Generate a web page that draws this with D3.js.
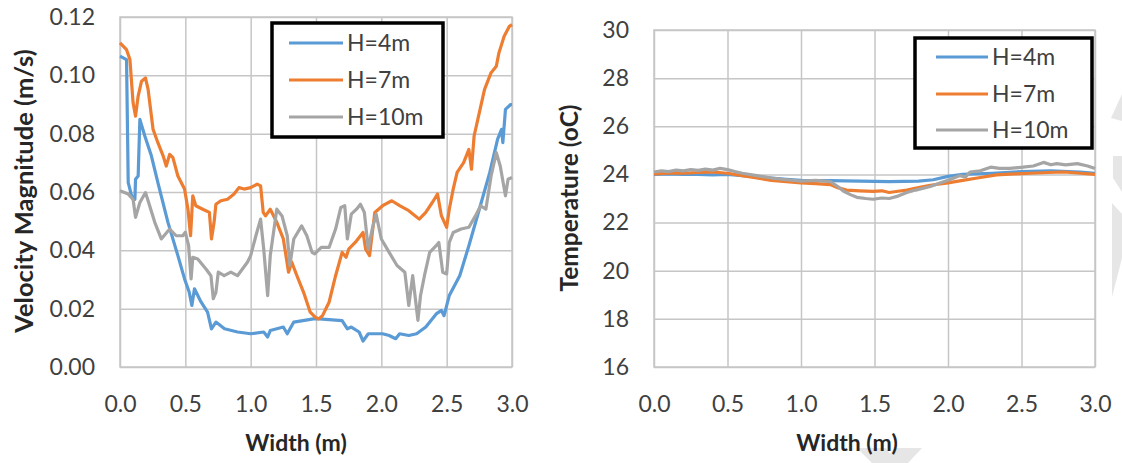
<!DOCTYPE html>
<html>
<head>
<meta charset="utf-8">
<script src="https://cdn.jsdelivr.net/npm/d3@7"></script>
<style>
body { margin: 0; background: #fff; }
text { font-family: Lato, "Open Sans", sans-serif; }
</style>
</head>
<body>
<svg width="1122" height="463"></svg>
<script>
// --- data ---
var seriesNames = ["H=4m", "H=7m", "H=10m"];
var seriesColors = ["#5b9bd5", "#ed7d31", "#a5a5a5"];
var widthTicks = [0, 0.5, 1.0, 1.5, 2.0, 2.5, 3.0];
var velocityTicks = [0, 0.02, 0.04, 0.06, 0.08, 0.10, 0.12];
var temperatureTicks = [16, 18, 20, 22, 24, 26, 28, 30];

var velH4 = [[0,0.1066],[0.05,0.1054],[0.063,0.0632],[0.089,0.0587],[0.114,0.0575],[0.119,0.0644],[0.139,0.0655],[0.152,0.0849],[0.19,0.0792],[0.24,0.0724],[0.29,0.0632],[0.367,0.0496],[0.443,0.0382],[0.494,0.0302],[0.53,0.0256],[0.55,0.0211],[0.57,0.0268],[0.62,0.0223],[0.67,0.0188],[0.70,0.0131],[0.734,0.0154],[0.80,0.0131],[0.90,0.012],[1.0,0.0114],[1.10,0.012],[1.13,0.0103],[1.15,0.0125],[1.25,0.0137],[1.28,0.0114],[1.33,0.0154],[1.48,0.0165],[1.525,0.0165],[1.70,0.0159],[1.74,0.0131],[1.77,0.0137],[1.83,0.012],[1.86,0.0089],[1.90,0.0114],[2.01,0.0114],[2.06,0.0108],[2.11,0.0097],[2.14,0.0114],[2.21,0.0108],[2.27,0.0114],[2.34,0.0137],[2.42,0.0182],[2.46,0.0194],[2.48,0.0176],[2.52,0.0245],[2.60,0.0313],[2.67,0.0416],[2.75,0.0541],[2.83,0.0667],[2.89,0.0781],[2.92,0.0815],[2.93,0.0769],[2.95,0.0883],[2.99,0.09],[3.0,0.09]];
var velH7 = [[0,0.1111],[0.05,0.1088],[0.076,0.1054],[0.10,0.0906],[0.119,0.086],[0.139,0.0929],[0.165,0.098],[0.195,0.0991],[0.215,0.0952],[0.253,0.0815],[0.29,0.0769],[0.33,0.0724],[0.354,0.0689],[0.38,0.0729],[0.405,0.0718],[0.443,0.0655],[0.494,0.061],[0.52,0.0541],[0.54,0.045],[0.557,0.0587],[0.58,0.0553],[0.633,0.0541],[0.684,0.053],[0.70,0.0439],[0.72,0.0496],[0.734,0.0558],[0.772,0.057],[0.823,0.0575],[0.873,0.0593],[0.91,0.0615],[0.95,0.061],[1.0,0.0615],[1.05,0.0627],[1.076,0.0621],[1.096,0.053],[1.114,0.0518],[1.15,0.0541],[1.20,0.0496],[1.25,0.0439],[1.29,0.0325],[1.314,0.036],[1.354,0.0313],[1.405,0.0256],[1.456,0.0188],[1.494,0.0171],[1.52,0.0165],[1.55,0.0176],[1.60,0.0222],[1.65,0.0313],[1.70,0.0393],[1.73,0.0376],[1.75,0.0404],[1.80,0.0427],[1.86,0.0461],[1.88,0.0404],[1.91,0.0382],[1.95,0.053],[2.01,0.0553],[2.08,0.057],[2.14,0.0553],[2.21,0.0536],[2.29,0.0507],[2.34,0.053],[2.39,0.0564],[2.43,0.0593],[2.46,0.0518],[2.50,0.0479],[2.52,0.0541],[2.55,0.061],[2.58,0.0667],[2.63,0.0701],[2.67,0.0746],[2.69,0.0678],[2.71,0.0792],[2.75,0.0872],[2.79,0.0952],[2.84,0.1009],[2.88,0.1031],[2.90,0.1077],[2.94,0.1134],[2.98,0.1168],[3.0,0.1174]];
var velH10 = [[0,0.0604],[0.063,0.0593],[0.10,0.0575],[0.119,0.0513],[0.152,0.0564],[0.195,0.0598],[0.215,0.057],[0.266,0.0496],[0.316,0.0439],[0.38,0.0473],[0.43,0.045],[0.48,0.045],[0.50,0.0462],[0.525,0.0416],[0.544,0.0302],[0.557,0.0376],[0.595,0.037],[0.658,0.0336],[0.696,0.0313],[0.714,0.0234],[0.734,0.0256],[0.752,0.0325],[0.797,0.0313],[0.848,0.0325],[0.899,0.0313],[0.975,0.0359],[1.0,0.0382],[1.04,0.045],[1.076,0.0507],[1.10,0.0404],[1.13,0.0245],[1.15,0.0382],[1.20,0.0541],[1.24,0.0518],[1.28,0.045],[1.30,0.0348],[1.33,0.0439],[1.39,0.0484],[1.43,0.045],[1.47,0.0393],[1.49,0.0388],[1.54,0.041],[1.60,0.041],[1.65,0.0473],[1.69,0.0547],[1.72,0.0553],[1.74,0.0439],[1.77,0.0524],[1.81,0.0541],[1.84,0.0558],[1.87,0.053],[1.90,0.0404],[1.93,0.0473],[1.96,0.0524],[2.0,0.0439],[2.06,0.0393],[2.12,0.0348],[2.18,0.0325],[2.21,0.0211],[2.24,0.0313],[2.28,0.016],[2.30,0.0245],[2.33,0.0313],[2.37,0.0393],[2.42,0.0416],[2.44,0.0427],[2.47,0.0325],[2.50,0.0319],[2.52,0.0427],[2.55,0.0461],[2.61,0.0473],[2.67,0.0479],[2.72,0.0518],[2.76,0.0553],[2.80,0.0541],[2.84,0.0655],[2.88,0.0735],[2.91,0.0689],[2.95,0.0587],[2.97,0.0644],[3.0,0.065]];

var tempH4 = [[0,24.0],[0.1,24.02],[0.2,24.0],[0.3,24.0],[0.4,23.98],[0.5,24.0],[0.6,23.95],[0.7,23.9],[0.8,23.85],[0.9,23.8],[1.0,23.75],[1.2,23.74],[1.4,23.72],[1.6,23.7],[1.8,23.72],[1.9,23.78],[2.0,23.92],[2.1,24.0],[2.3,24.05],[2.5,24.12],[2.7,24.15],[2.9,24.1],[3.0,24.05]];
var tempH7 = [[0,24.02],[0.1,24.05],[0.2,24.05],[0.3,24.08],[0.4,24.1],[0.5,24.05],[0.6,23.95],[0.7,23.85],[0.8,23.75],[0.9,23.7],[1.0,23.65],[1.1,23.62],[1.2,23.58],[1.25,23.45],[1.31,23.35],[1.4,23.32],[1.49,23.3],[1.55,23.32],[1.6,23.25],[1.66,23.3],[1.72,23.35],[1.8,23.45],[1.88,23.55],[2.0,23.65],[2.1,23.75],[2.2,23.85],[2.33,23.98],[2.45,24.02],[2.56,24.05],[2.68,24.08],[2.79,24.1],[2.9,24.05],[3.0,24.0]];
var tempH10 = [[0,24.1],[0.05,24.15],[0.1,24.12],[0.15,24.18],[0.2,24.15],[0.25,24.2],[0.3,24.17],[0.35,24.22],[0.4,24.18],[0.45,24.25],[0.5,24.2],[0.55,24.12],[0.6,24.05],[0.7,23.95],[0.8,23.85],[0.9,23.78],[1.0,23.72],[1.1,23.75],[1.2,23.7],[1.25,23.5],[1.29,23.3],[1.34,23.15],[1.38,23.05],[1.44,23.0],[1.49,22.97],[1.55,23.02],[1.6,23.0],[1.66,23.1],[1.72,23.25],[1.78,23.35],[1.88,23.5],[1.95,23.65],[2.02,23.8],[2.08,23.95],[2.12,23.9],[2.15,24.1],[2.22,24.15],[2.29,24.3],[2.35,24.25],[2.42,24.25],[2.51,24.3],[2.58,24.35],[2.65,24.5],[2.7,24.4],[2.74,24.45],[2.8,24.4],[2.88,24.45],[2.95,24.35],[3.0,24.25]];

// --- layout ---
var svg = d3.select("svg");
var gridColor = "#c6c6c6";
var textColor = "#404040";

// faint watermark fragments at the page edge, drawn first so text sits above
var marks = [
    [[1122,94],[1111,118],[1122,121]],
    [[1113,156],[1122,156],[1122,192],[1113,178]],
    [[1112,203],[1122,214],[1122,258],[1112,297]],
    [[857,448],[886,448],[890,454],[894,448],[922,448],[908,463],[872,463]]
];
svg.selectAll(".wm").data(marks).enter()
    .append("polygon")
    .attr("class", "wm")
    .attr("points", d => d.map(q => q.join(",")).join(" "))
    .attr("fill", "#e6e6e6");

var panels = [
    {
        box: { left: 120, right: 512, top: 17, bottom: 367 },
        yDomain: [0, 0.12], yTicks: velocityTicks, yFormat: d3.format(".2f"),
        series: [velH4, velH7, velH10],
        yTitle: "Velocity Magnitude (m/s)", yTitlePos: [33, 191],
        xTitleX: 296,
        legend: { x: 272, y: 23, w: 171, h: 114, l0: 289, l1: 343, rows: [43, 80, 117] }
    },
    {
        box: { left: 654, right: 1095, top: 30, bottom: 367 },
        yDomain: [16, 30], yTicks: temperatureTicks, yFormat: d3.format("d"),
        series: [tempH4, tempH7, tempH10],
        yTitle: "Temperature (oC)", yTitlePos: [578, 198],
        xTitleX: 847,
        legend: { x: 915, y: 38, w: 177, h: 110, l0: 936, l1: 988, rows: [57, 94, 130] }
    }
];

panels.forEach(function(p, i) {
    var b = p.box;
    var x = d3.scaleLinear().domain([0, 3]).range([b.left, b.right]);
    var y = d3.scaleLinear().domain(p.yDomain).range([b.bottom, b.top]);

    // gridlines + tick labels
    var gx = svg.append("g")
        .attr("transform", "translate(0," + b.bottom + ")")
        .call(d3.axisBottom(x).tickValues(widthTicks).tickFormat(d3.format(".1f"))
            .tickSize(-(b.bottom - b.top)).tickPadding(29));
    var gy = svg.append("g")
        .attr("transform", "translate(" + b.left + ",0)")
        .call(d3.axisLeft(y).tickValues(p.yTicks).tickFormat(p.yFormat)
            .tickSize(-(b.right - b.left)).tickPadding(25));
    [gx, gy].forEach(function(g) {
        g.select(".domain").remove();
        g.selectAll("line").attr("stroke", gridColor).attr("stroke-width", 1.5);
        g.selectAll("text").attr("fill", textColor).style("font-size", "23px");
    });

    // plot border
    svg.append("rect")
        .attr("x", b.left).attr("y", b.top)
        .attr("width", b.right - b.left).attr("height", b.bottom - b.top)
        .attr("fill", "none").attr("stroke", gridColor).attr("stroke-width", 1.5);

    // series lines
    var line = d3.line().x(d => x(d[0])).y(d => y(d[1]));
    p.series.forEach(function(s, k) {
        svg.append("path")
            .datum(s)
            .attr("d", line)
            .attr("fill", "none")
            .attr("stroke", seriesColors[k])
            .attr("stroke-width", 3.2)
            .attr("stroke-linejoin", "round");
    });

    // axis titles
    svg.append("text")
        .attr("x", p.xTitleX).attr("y", 451)
        .attr("text-anchor", "middle")
        .attr("fill", "#262626")
        .style("font-size", "23px").style("font-weight", "bold")
        .text("Width (m)");
    svg.append("text")
        .attr("transform", "translate(" + p.yTitlePos[0] + "," + p.yTitlePos[1] + ") rotate(-90)")
        .attr("text-anchor", "middle")
        .attr("fill", "#262626")
        .style("font-size", i === 0 ? "25.5px" : "24.5px").style("font-weight", "bold")
        .text(p.yTitle);

    // legend
    var L = p.legend;
    svg.append("rect")
        .attr("x", L.x).attr("y", L.y).attr("width", L.w).attr("height", L.h)
        .attr("fill", "#fff").attr("stroke", "#000").attr("stroke-width", 3.5);
    seriesNames.forEach(function(name, k) {
        svg.append("line")
            .attr("x1", L.l0).attr("x2", L.l1)
            .attr("y1", L.rows[k]).attr("y2", L.rows[k])
            .attr("stroke", seriesColors[k]).attr("stroke-width", 3.2);
        svg.append("text")
            .attr("x", L.l1 + 4).attr("y", L.rows[k])
            .attr("dy", "0.36em")
            .attr("fill", textColor)
            .style("font-size", "23px")
            .text(name);
    });
});
</script>
</body>
</html>
